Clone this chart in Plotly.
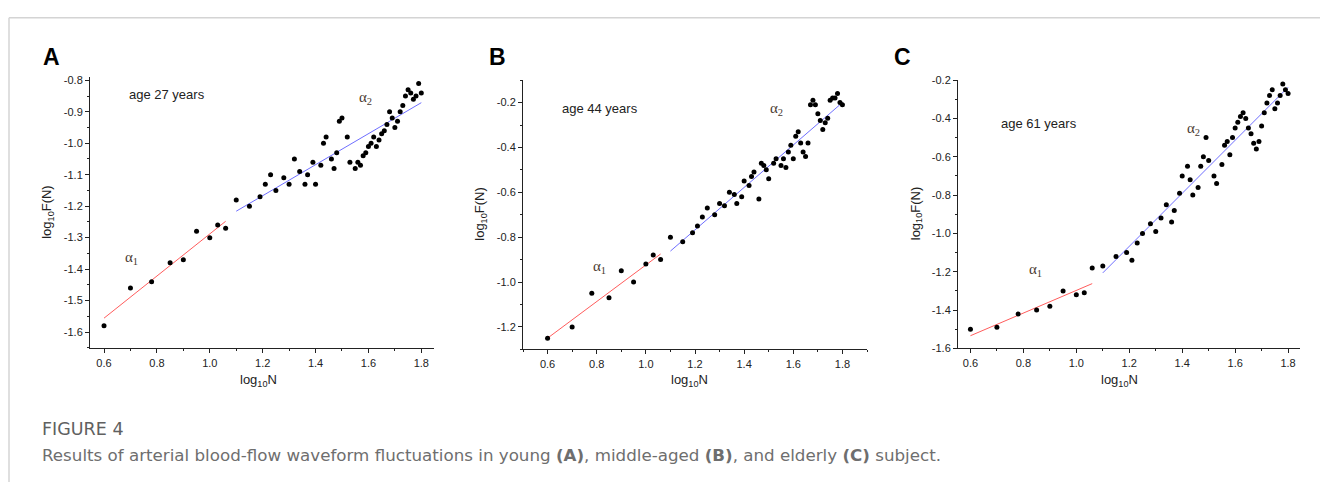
import plotly.graph_objects as go

W, H = 1320, 488

# ---------------- data ----------------
xA = [0.60, 0.70, 0.78, 0.85, 0.90, 0.95, 1.00, 1.03, 1.06, 1.10, 1.15, 1.19, 1.21, 1.23, 1.25,
      1.28, 1.30, 1.32, 1.34, 1.36, 1.37, 1.39, 1.40, 1.42, 1.43, 1.44, 1.46, 1.47, 1.48, 1.49,
      1.50, 1.52, 1.53, 1.55, 1.56, 1.57, 1.58, 1.59, 1.60, 1.61, 1.62, 1.63, 1.64, 1.65, 1.66,
      1.67, 1.68, 1.69, 1.70, 1.71, 1.72, 1.73, 1.74, 1.75, 1.76, 1.77, 1.78, 1.79, 1.80]
yA = [-1.58, -1.46, -1.44, -1.38, -1.37, -1.28, -1.30, -1.26, -1.27, -1.18, -1.20, -1.17, -1.13, -1.10, -1.15,
      -1.11, -1.13, -1.05, -1.09, -1.13, -1.10, -1.06, -1.13, -1.07, -1.00, -0.98, -1.05, -1.08, -1.03, -0.93,
      -0.92, -0.98, -1.06, -1.08, -1.06, -1.07, -1.04, -1.03, -1.01, -1.00, -0.98, -1.01, -0.99, -0.97, -0.96,
      -0.94, -0.90, -0.92, -0.95, -0.93, -0.90, -0.88, -0.85, -0.83, -0.84, -0.86, -0.85, -0.81, -0.84]
fitA1_x = [0.60, 1.06]
fitA1_y = [-1.556, -1.248]
fitA2_x = [1.10, 1.80]
fitA2_y = [-1.216, -0.871]

xB = [0.60, 0.70, 0.78, 0.85, 0.90, 0.95, 1.00, 1.03, 1.06, 1.10, 1.15, 1.19, 1.21, 1.23, 1.25,
      1.28, 1.30, 1.32, 1.34, 1.36, 1.37, 1.39, 1.40, 1.42, 1.43, 1.44, 1.46, 1.47, 1.48, 1.49,
      1.50, 1.52, 1.53, 1.55, 1.56, 1.57, 1.58, 1.59, 1.60, 1.61, 1.62, 1.63, 1.64, 1.65, 1.66,
      1.67, 1.68, 1.69, 1.70, 1.71, 1.72, 1.73, 1.74, 1.75, 1.76, 1.77, 1.78, 1.79, 1.80]
yB = [-1.25, -1.20, -1.05, -1.07, -0.95, -1.00, -0.92, -0.88, -0.90, -0.80, -0.82, -0.78, -0.75, -0.71, -0.67,
      -0.70, -0.65, -0.66, -0.60, -0.61, -0.65, -0.62, -0.55, -0.57, -0.53, -0.51, -0.63, -0.47, -0.48, -0.50,
      -0.54, -0.47, -0.45, -0.48, -0.45, -0.49, -0.42, -0.39, -0.45, -0.35, -0.33, -0.38, -0.42, -0.44, -0.38,
      -0.21, -0.19, -0.21, -0.25, -0.28, -0.32, -0.29, -0.27, -0.19, -0.18, -0.18, -0.16, -0.20, -0.21]
fitB1_x = [0.60, 1.06]
fitB1_y = [-1.25, -0.875]
fitB2_x = [1.10, 1.80]
fitB2_y = [-0.862, -0.200]

xC = [0.60, 0.70, 0.78, 0.85, 0.90, 0.95, 1.00, 1.03, 1.06, 1.10, 1.15, 1.19, 1.21, 1.23, 1.25,
      1.28, 1.30, 1.32, 1.34, 1.36, 1.37, 1.39, 1.40, 1.42, 1.43, 1.44, 1.46, 1.47, 1.48, 1.49,
      1.50, 1.52, 1.53, 1.55, 1.56, 1.57, 1.58, 1.59, 1.60, 1.61, 1.62, 1.63, 1.64, 1.65, 1.66,
      1.67, 1.68, 1.69, 1.70, 1.71, 1.72, 1.73, 1.74, 1.75, 1.76, 1.77, 1.78, 1.79, 1.80]
yC = [-1.50, -1.49, -1.42, -1.40, -1.38, -1.30, -1.32, -1.31, -1.18, -1.17, -1.12, -1.10, -1.14, -1.05, -1.00,
      -0.95, -0.99, -0.92, -0.85, -0.94, -0.88, -0.79, -0.70, -0.65, -0.72, -0.80, -0.76, -0.65, -0.60, -0.50,
      -0.62, -0.70, -0.74, -0.64, -0.54, -0.52, -0.59, -0.50, -0.45, -0.42, -0.39, -0.37, -0.40, -0.45, -0.48,
      -0.53, -0.56, -0.52, -0.44, -0.37, -0.32, -0.28, -0.25, -0.35, -0.32, -0.28, -0.22, -0.25, -0.27]
fitC1_x = [0.60, 1.06]
fitC1_y = [-1.534, -1.262]
fitC2_x = [1.10, 1.80]
fitC2_y = [-1.206, -0.237]

# tick values
x_ticks = [0.6, 0.8, 1.0, 1.2, 1.4, 1.6, 1.8]
x_minor_A = [0.7, 0.9, 1.1, 1.3, 1.5, 1.7]
x_minor_B = [0.5, 0.7, 0.9, 1.1, 1.3, 1.5, 1.7, 1.9]
yA_ticks = [-0.8, -0.9, -1.0, -1.1, -1.2, -1.3, -1.4, -1.5, -1.6]
yA_minor = [-0.85, -0.95, -1.05, -1.15, -1.25, -1.35, -1.45, -1.55, -1.65]
yB_ticks = [-0.2, -0.4, -0.6, -0.8, -1.0, -1.2]
yB_minor = [-0.1, -0.3, -0.5, -0.7, -0.9, -1.1, -1.3]
yC_ticks = [-0.2, -0.4, -0.6, -0.8, -1.0, -1.2, -1.4, -1.6]
yC_minor = [-0.3, -0.5, -0.7, -0.9, -1.1, -1.3, -1.5]

panel_letters = ["A", "B", "C"]
age_labels = ["age 27 years", "age 44 years", "age 61 years"]
caption_title = "FIGURE 4"
caption_text = ("Results of arterial blood-flow waveform fluctuations in young <b>(A)</b>, "
                "middle-aged <b>(B)</b>, and elderly <b>(C)</b> subject.")

# ---------------- layout geometry (pixels) ----------------
panels = [
    dict(x=xA, y=yA, f1=(fitA1_x, fitA1_y), f2=(fitA2_x, fitA2_y),
         px=(90, 434), py=(73, 351), xr=[0.547, 1.848], yr=[-1.652, -0.79],
         xt_v=x_ticks, xm_v=x_minor_A, yt_v=yA_ticks, ym_v=yA_minor,
         age=(0.686, -0.846), a1=(0.671, -1.366), a2=(1.556, -0.857),
         letter=(41, 52), xt=258),
    dict(x=xB, y=yB, f1=(fitB1_x, fitB1_y), f2=(fitB2_x, fitB2_y),
         px=(523, 867), py=(76, 352), xr=[0.5, 1.9], yr=[-1.3, -0.1],
         xt_v=x_ticks, xm_v=x_minor_B, yt_v=yB_ticks, ym_v=yB_minor,
         age=(0.650, -0.226), a1=(0.775, -0.934), a2=(1.497, -0.228),
         letter=(487, 52), xt=689),
    dict(x=xC, y=yC, f1=(fitC1_x, fitC1_y), f2=(fitC2_x, fitC2_y),
         px=(958, 1300), py=(76, 351), xr=[0.553, 1.845], yr=[-1.6, -0.2],
         xt_v=x_ticks, xm_v=x_minor_A, yt_v=yC_ticks, ym_v=yC_minor,
         age=(0.707, -0.424), a1=(0.814, -1.192), a2=(1.409, -0.453),
         letter=(892, 52), xt=1119),
]

fig = go.Figure()
annotations = []
AX_FONT = dict(family="Liberation Sans, Arial", size=11, color="#222")

for i, p in enumerate(panels):
    n = "" if i == 0 else str(i + 1)
    xa, ya = "x" + n, "y" + n
    fig.add_trace(go.Scatter(x=p["f1"][0], y=p["f1"][1], mode="lines",
                             line=dict(color="#ff5c5c", width=1), xaxis=xa, yaxis=ya,
                             showlegend=False, hoverinfo="skip"))
    fig.add_trace(go.Scatter(x=p["f2"][0], y=p["f2"][1], mode="lines",
                             line=dict(color="#6e6eff", width=1), xaxis=xa, yaxis=ya,
                             showlegend=False, hoverinfo="skip"))
    fig.add_trace(go.Scatter(x=p["x"], y=p["y"], mode="markers",
                             marker=dict(color="black", size=5), xaxis=xa, yaxis=ya,
                             showlegend=False))
    xdom = [p["px"][0] / W, p["px"][1] / W]
    ydom = [(H - p["py"][1]) / H, (H - p["py"][0]) / H]
    common = dict(showgrid=False, zeroline=False, showline=True, linecolor="#222",
                  linewidth=1, ticks="outside", ticklen=4, tickcolor="#222",
                  tickfont=AX_FONT, mirror=False, tickmode="array")
    fig.update_layout(**{
        ("xaxis" + n): dict(domain=xdom, range=p["xr"], anchor=ya,
                            tickvals=p["xt_v"], ticktext=[f"{v:.1f}" for v in p["xt_v"]],
                            minor=dict(ticks="outside", tickvals=p["xm_v"], ticklen=2, tickcolor="#222"),
                            **common),
        ("yaxis" + n): dict(domain=ydom, range=p["yr"], anchor=xa,
                            tickvals=p["yt_v"], ticktext=[f"{v:.1f}" for v in p["yt_v"]],
                            minor=dict(ticks="outside", tickvals=p["ym_v"], ticklen=2, tickcolor="#222"),
                            **common),
    })
    # text inside plot
    annotations.append(dict(x=p["age"][0], y=p["age"][1], xref=xa, yref=ya, text=age_labels[i],
                            showarrow=False, xanchor="left", yanchor="middle",
                            font=dict(family="Liberation Sans, Arial", size=13, color="#222")))
    for key, sub in (("a1", "1"), ("a2", "2")):
        annotations.append(dict(x=p[key][0], y=p[key][1], xref=xa, yref=ya,
                                text="α<sub>" + sub + "</sub>", showarrow=False,
                                xanchor="left", yanchor="middle",
                                font=dict(family="Liberation Serif, Times New Roman", size=15,
                                          color="#4a3a30")))
    # panel letter
    annotations.append(dict(x=p["letter"][0] / W, y=(H - p["letter"][1]) / H, xref="paper", yref="paper",
                            text="<b>" + panel_letters[i] + "</b>", showarrow=False,
                            xanchor="left", yanchor="middle",
                            font=dict(family="Liberation Sans, Arial", size=23, color="black")))
    # axis titles
    annotations.append(dict(x=p["xt"] / W, y=(H - 384) / H, xref="paper", yref="paper",
                            text="log<sub>10</sub>N", showarrow=False,
                            xanchor="center", yanchor="middle",
                            font=dict(family="Liberation Sans, Arial", size=13, color="#222")))
    annotations.append(dict(x=(p["px"][0] - 42) / W, y=(H - (p["py"][0] + p["py"][1]) / 2) / H,
                            xref="paper", yref="paper", text="log<sub>10</sub>F(N)", textangle=-90,
                            showarrow=False, xanchor="center", yanchor="middle",
                            font=dict(family="Liberation Sans, Arial", size=13, color="#222")))

# caption
annotations.append(dict(x=40 / W, y=(H - 434) / H, xref="paper", yref="paper", text=caption_title,
                        showarrow=False, xanchor="left", yanchor="middle",
                        font=dict(family="DejaVu Sans", size=17.5, color="#606060")))
annotations.append(dict(x=40 / W, y=(H - 460) / H, xref="paper", yref="paper", text=caption_text,
                        showarrow=False, xanchor="left", yanchor="middle",
                        font=dict(family="DejaVu Sans", size=16.7, color="#6e6e6e")))

shapes = [
    dict(type="line", xref="paper", yref="paper", x0=9 / W, x1=1.0, y0=(H - 12) / H, y1=(H - 12) / H,
         line=dict(color="#d4d4d4", width=1.5)),
    dict(type="line", xref="paper", yref="paper", x0=9 / W, x1=9 / W, y0=0, y1=(H - 12) / H,
         line=dict(color="#d4d4d4", width=1.5)),
]

fig.update_layout(width=W, height=H, margin=dict(l=0, r=0, t=0, b=0),
                  paper_bgcolor="white", plot_bgcolor="white",
                  annotations=annotations, shapes=shapes, showlegend=False)

fig.write_html("out.html")
